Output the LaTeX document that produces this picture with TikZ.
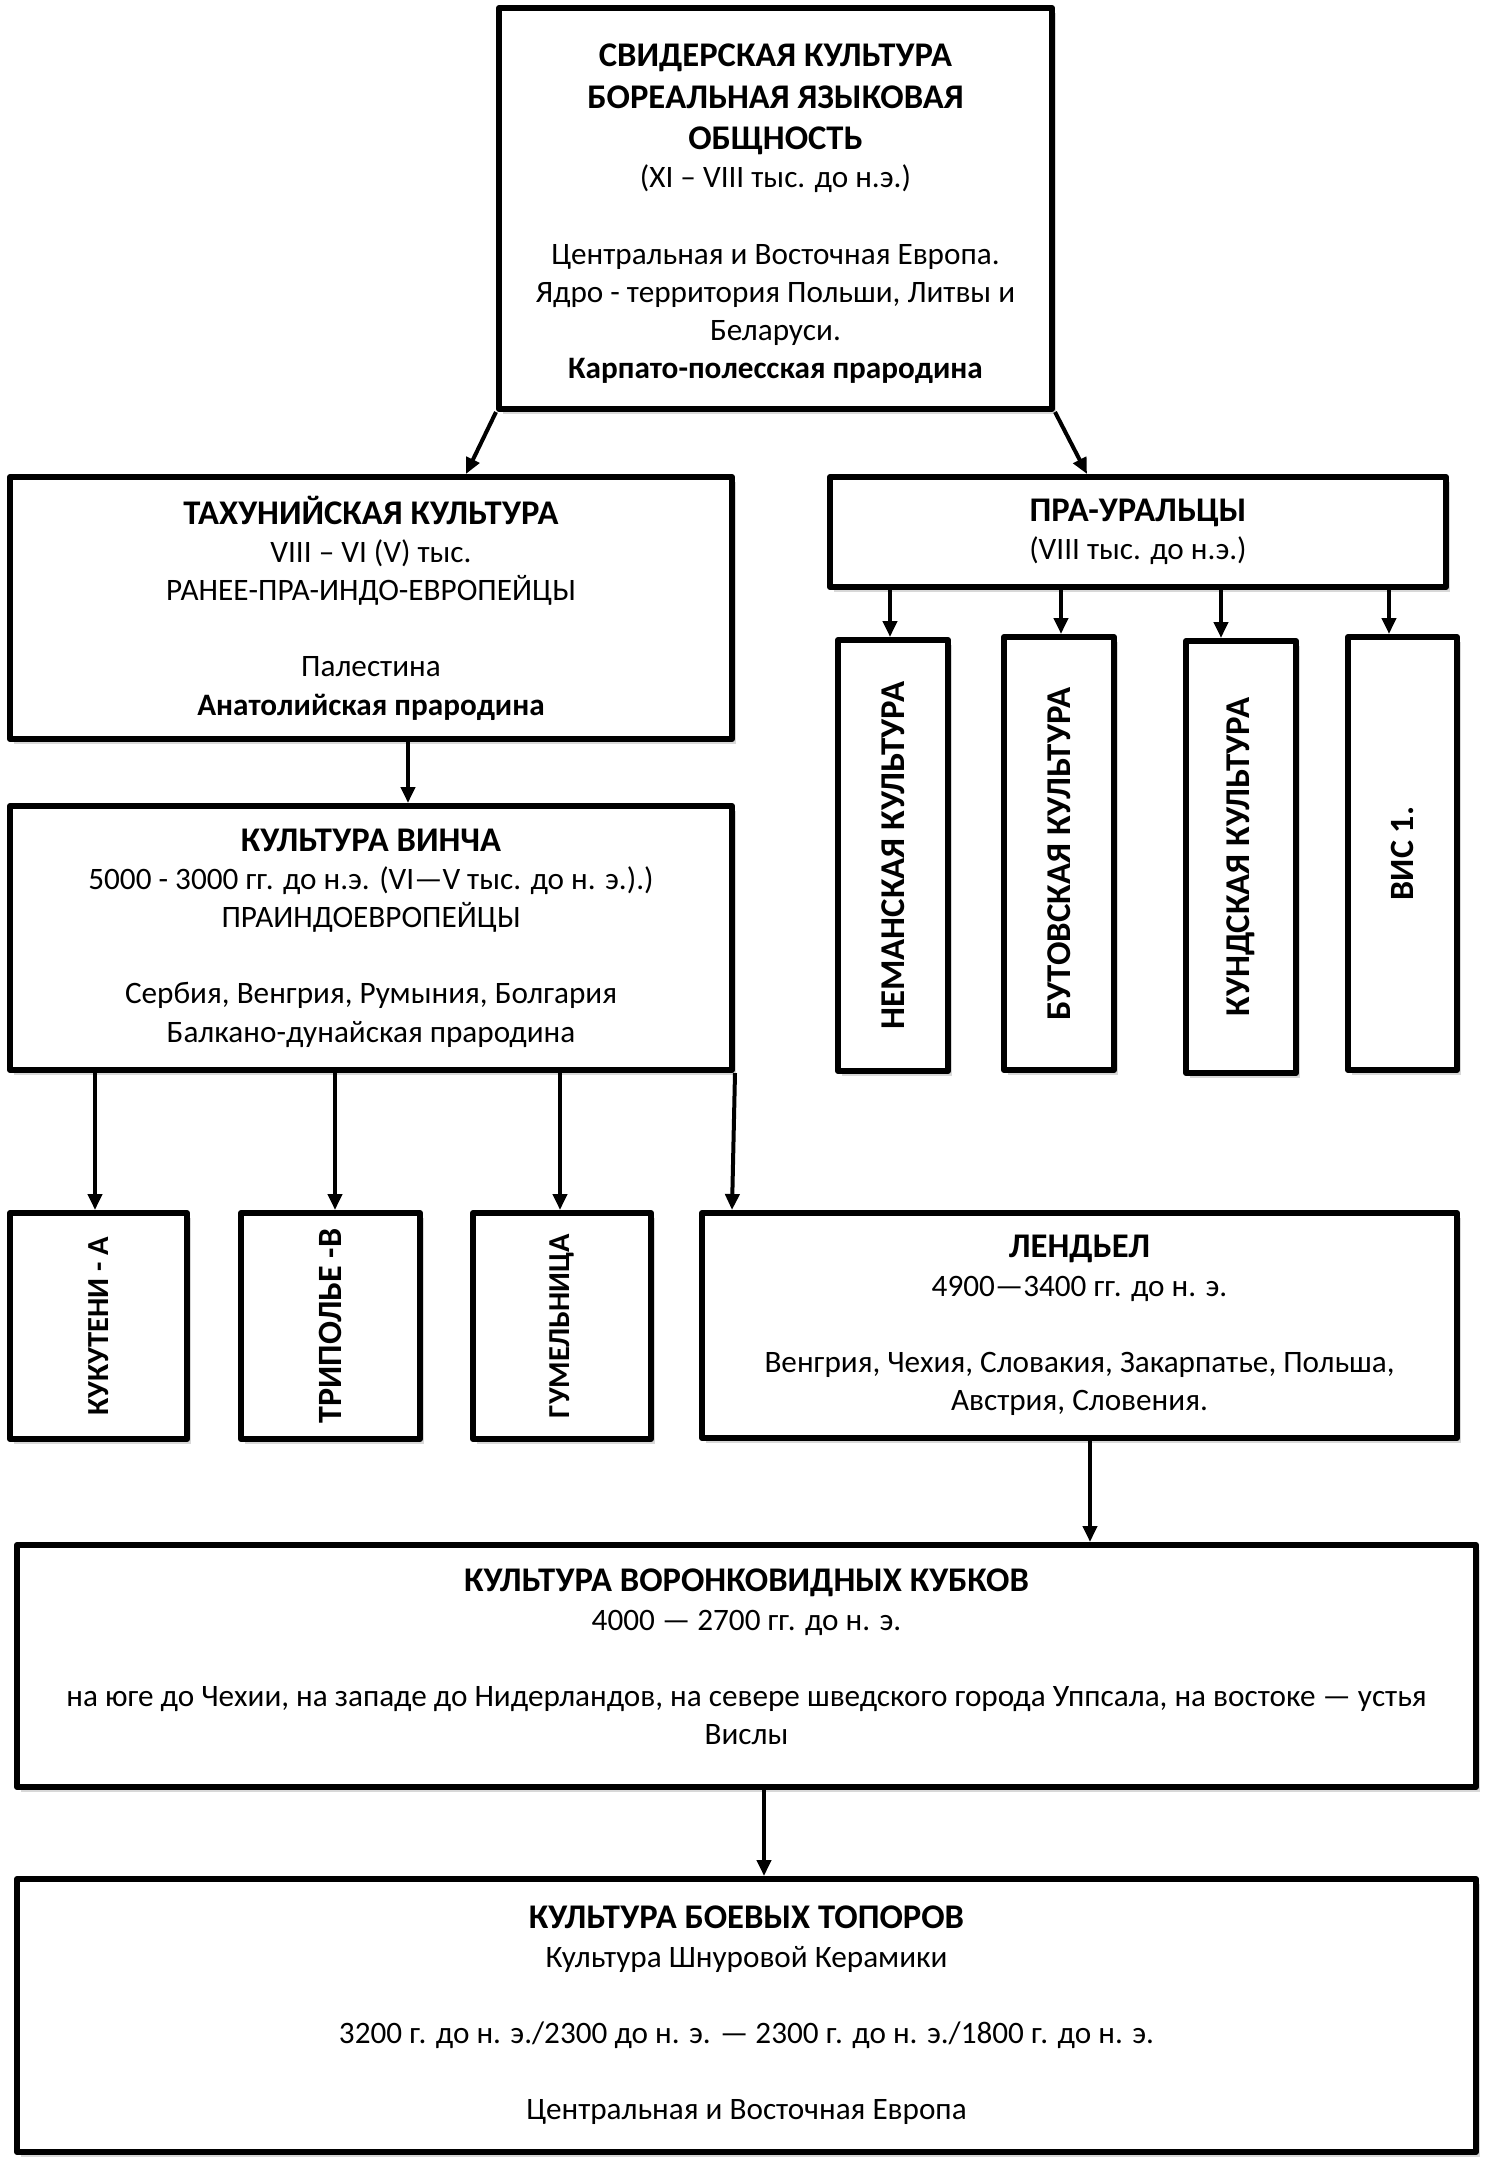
\documentclass[tikz,border=0pt]{standalone}
\usepackage{fontspec}
\setmainfont{Carlito}
\usepackage{graphicx}
\usetikzlibrary{arrows.meta,shadows}
\newcommand\ttl[1]{{\fontsize{17.3}{19.1}\selectfont\textbf{#1}}}
\newcommand\vtxt[2]{\rotatebox{90}{\fontsize{#1}{19.1}\selectfont\textbf{#2}}}
\begin{document}
\begin{tikzpicture}[x=0.5pt,y=-0.5pt,
  box/.style={draw=black, line width=3pt, line join=round, fill=white, align=center, inner sep=0pt,
    font=\fontsize{15.6}{19.1}\selectfont,
    drop shadow={shadow xshift=2pt, shadow yshift=-2.5pt, opacity=0.3}},
  txt/.style={align=center, inner sep=0pt, font=\fontsize{15.6}{19.1}\selectfont},
  arr/.style={-{Triangle[length=8pt,width=7pt]}, line width=2pt}]
\fill[white] (0,0) rectangle (1493,2160);
\useasboundingbox (0,0) rectangle (1493,2160);

% boxes
\node[box, minimum width=276.5pt, minimum height=200.5pt] (top) at (775.5,208.5) {};
\node[txt] (topT) at (775.5,214)
 {\ttl{СВИДЕРСКАЯ КУЛЬТУРА}\\[1.6pt] \ttl{БОРЕАЛЬНАЯ ЯЗЫКОВАЯ}\\[1.6pt] \ttl{ОБЩНОСТЬ}\\ (XI – VIII тыс. до н.э.)\\ ~\\ Центральная и Восточная Европа.\\ Ядро - территория Польши, Литвы и\\ Беларуси.\\ \textbf{Карпато-полесская прародина}};

\node[box, minimum width=361pt, minimum height=131pt] (tax) at (371,608)
 {\ttl{ТАХУНИЙСКАЯ КУЛЬТУРА}\\ VIII – VI (V) тыс.\\ РАНЕЕ-ПРА-ИНДО-ЕВРОПЕЙЦЫ\\ ~\\ Палестина\\ \textbf{Анатолийская прародина}};

\node[box, minimum width=308pt, minimum height=55pt] (pra) at (1138,532)
 {\ttl{ПРА-УРАЛЬЦЫ}\\ (VIII тыс. до н.э.)};

\node[box, minimum width=55pt, minimum height=215.5pt] (neman) at (893,855.5)
 {\vtxt{17.4}{НЕМАНСКАЯ КУЛЬТУРА}};
\node[box, minimum width=55pt, minimum height=216.5pt] (butov) at (1059,853.5)
 {\vtxt{17.4}{БУТОВСКАЯ КУЛЬТУРА}};
\node[box, minimum width=55pt, minimum height=216pt] (kund) at (1241,857)
 {\vtxt{17.4}{КУНДСКАЯ КУЛЬТУРА}};
\node[box, minimum width=54.5pt, minimum height=216.5pt] (vis) at (1402.5,853.5)
 {\vtxt{17}{ВИС 1.}};

\node[box, minimum width=361pt, minimum height=132pt] (vinca) at (371,938)
 {\ttl{КУЛЬТУРА ВИНЧА}\\ 5000 - 3000 гг. до н.э. (VI—V тыс. до н. э.).)\\ ПРАИНДОЕВРОПЕЙЦЫ\\ ~\\ Сербия, Венгрия, Румыния, Болгария\\ Балкано-дунайская прародина};

\node[box, minimum width=88.5pt, minimum height=113pt] (kuk) at (98.5,1326)
 {\vtxt{15.3}{КУКУТЕНИ - А}};
\node[box, minimum width=89.5pt, minimum height=113pt] (trip) at (330.5,1326)
 {\vtxt{17}{ТРИПОЛЬЕ -В}};
\node[box, minimum width=89pt, minimum height=113pt] (gum) at (562,1326)
 {\vtxt{15.2}{ГУМЕЛЬНИЦА}};

\node[box, minimum width=377.5pt, minimum height=112.5pt] (lend) at (1079.5,1325.5)
 {\ttl{ЛЕНДЬЕЛ}\\ 4900—3400 гг. до н. э.\\ ~\\ Венгрия, Чехия, Словакия, Закарпатье, Польша,\\ Австрия, Словения.};

\node[box, minimum width=729.5pt, minimum height=121pt] (vor) at (746.5,1666) {};
\node[txt] (vorT) at (746.5,1657)
 {\ttl{КУЛЬТУРА ВОРОНКОВИДНЫХ КУБКОВ}\\ 4000 — 2700 гг. до н. э.\\ ~\\ на юге до Чехии, на западе до Нидерландов, на севере шведского города Уппсала, на востоке — устья\\ Вислы};

\node[box, minimum width=729.5pt, minimum height=136.5pt] (boev) at (746.5,2015.5)
 {\ttl{КУЛЬТУРА БОЕВЫХ ТОПОРОВ}\\ Культура Шнуровой Керамики\\ ~\\ 3200 г. до н. э./2300 до н. э. — 2300 г. до н. э./1800 г. до н. э.\\ ~\\ Центральная и Восточная Европа};

% helper x positions
\coordinate (x466) at (466,0);
\coordinate (x1087) at (1087,0);
\coordinate (x408) at (408,0);
\coordinate (x890) at (890,0);
\coordinate (x1061) at (1061,0);
\coordinate (x1221) at (1221,0);
\coordinate (x1389) at (1389,0);
\coordinate (x95) at (95,0);
\coordinate (x335) at (335,0);
\coordinate (x560) at (560,0);
\coordinate (x732) at (732,0);
\coordinate (x1090) at (1090,0);
\coordinate (x764) at (764,0);

% connectors
\draw[arr] (top.south west) -- (tax.north -| x466);
\draw[arr] (top.south east) -- (pra.north -| x1087);
\draw[arr] (tax.south -| x408) -- (vinca.north -| x408);
\draw[arr] (pra.south -| x890) -- (neman.north -| x890);
\draw[arr] (pra.south -| x1061) -- (butov.north -| x1061);
\draw[arr] (pra.south -| x1221) -- (kund.north -| x1221);
\draw[arr] (pra.south -| x1389) -- (vis.north -| x1389);
\draw[arr] (vinca.south -| x95) -- (kuk.north -| x95);
\draw[arr] (vinca.south -| x335) -- (trip.north -| x335);
\draw[arr] (vinca.south -| x560) -- (gum.north -| x560);
\draw[arr] (vinca.south east) -- (lend.north -| x732);
\draw[arr] (lend.south -| x1090) -- (vor.north -| x1090);
\draw[arr] (vor.south -| x764) -- (boev.north -| x764);
\end{tikzpicture}
\end{document}
